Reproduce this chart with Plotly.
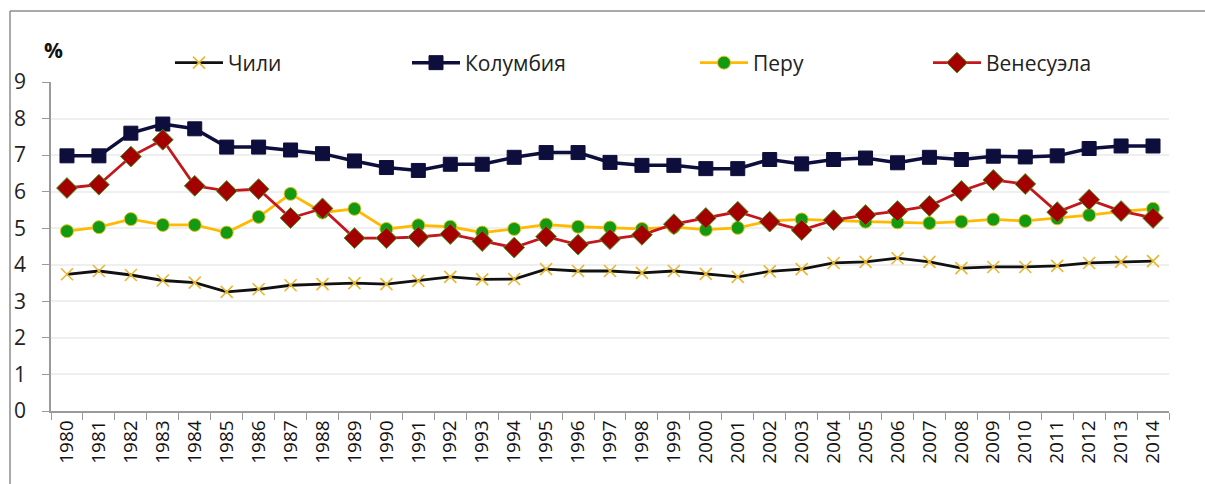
import plotly.graph_objects as go

years = [str(y) for y in range(1980, 2015)]

chile = [3.74, 3.83, 3.72, 3.57, 3.51, 3.26, 3.33, 3.44, 3.47, 3.50, 3.47, 3.56, 3.67, 3.60, 3.61,
         3.88, 3.83, 3.83, 3.78, 3.83, 3.75, 3.67, 3.82, 3.88, 4.05, 4.08, 4.18, 4.08, 3.91, 3.94,
         3.94, 3.97, 4.05, 4.08, 4.10]
colombia = [6.98, 6.98, 7.60, 7.85, 7.72, 7.22, 7.22, 7.14, 7.04, 6.84, 6.66, 6.58, 6.75, 6.75, 6.94,
            7.07, 7.07, 6.80, 6.72, 6.72, 6.63, 6.63, 6.88, 6.76, 6.88, 6.92, 6.79, 6.94, 6.88, 6.97,
            6.95, 6.98, 7.18, 7.25, 7.25]
peru = [4.92, 5.03, 5.25, 5.09, 5.09, 4.88, 5.31, 5.94, 5.43, 5.53, 4.98, 5.08, 5.04, 4.88, 4.98,
        5.10, 5.04, 5.02, 4.98, 5.03, 4.96, 5.01, 5.20, 5.24, 5.20, 5.18, 5.16, 5.14, 5.18, 5.24,
        5.20, 5.27, 5.36, 5.46, 5.53]
venezuela = [6.10, 6.19, 6.96, 7.42, 6.16, 6.02, 6.07, 5.28, 5.54, 4.73, 4.73, 4.76, 4.84, 4.65, 4.47,
             4.77, 4.55, 4.70, 4.82, 5.11, 5.28, 5.45, 5.18, 4.95, 5.22, 5.36, 5.47, 5.61, 6.02, 6.32,
             6.21, 5.44, 5.78, 5.47, 5.28]

W, H = 1205, 484
ML, MR, MT, MB = 51, 36, 82, 73
PW, PH = W - ML - MR, H - MT - MB


def px_x(x):
    return (x - ML) / PW


def px_y(y):
    return (H - MB - y) / PH


FONT = "Open Sans"

fig = go.Figure()

fig.add_trace(go.Scatter(
    x=years, y=chile, name="Чили", mode="lines+markers", legend="legend",
    line=dict(color="#111111", width=2.8),
    marker=dict(symbol="x-thin", size=12, line=dict(color="#E9B72F", width=1.6)),
))
fig.add_trace(go.Scatter(
    x=years, y=colombia, name="Колумбия", mode="lines+markers", legend="legend2",
    line=dict(color="#0E0E3C", width=3.5),
    marker=dict(symbol="square", size=14, color="#0E0E3C", line=dict(color="#0E0E3C", width=1)),
))
fig.add_trace(go.Scatter(
    x=years, y=peru, name="Перу", mode="lines+markers", legend="legend3",
    line=dict(color="#FFB900", width=2.8),
    marker=dict(symbol="circle", size=13, color="#129A12", line=dict(color="#E8C020", width=1)),
))
fig.add_trace(go.Scatter(
    x=years, y=venezuela, name="Венесуэла", mode="lines+markers", legend="legend4",
    line=dict(color="#C4161C", width=2.8),
    marker=dict(symbol="diamond", size=16, color="#A50000", line=dict(color="#3E9A1E", width=1)),
))

legend_font = dict(family=FONT, size=21, color="#222222")
legend_base = dict(orientation="h", xanchor="left", yanchor="middle", font=legend_font,
                   bgcolor="rgba(0,0,0,0)", itemwidth=48, tracegroupgap=0)
legend_x = [170, 407, 695, 928]
legend_y = px_y(63)

# Outer frame: top and left edges
shapes = [
    dict(type="line", xref="paper", yref="paper", x0=px_x(10), x1=px_x(W), y0=px_y(11), y1=px_y(11),
         line=dict(color="#8C8C8C", width=1.5)),
    dict(type="line", xref="paper", yref="paper", x0=px_x(10), x1=px_x(10), y0=px_y(11), y1=px_y(H),
         line=dict(color="#8C8C8C", width=1.5)),
]

fig.update_layout(
    width=W, height=H,
    margin=dict(l=ML, r=MR, t=MT, b=MB),
    paper_bgcolor="white", plot_bgcolor="white",
    font=dict(family=FONT, color="#222222"),
    showlegend=True,
    legend=dict(legend_base, x=px_x(legend_x[0]), y=legend_y),
    legend2=dict(legend_base, x=px_x(legend_x[1]), y=legend_y),
    legend3=dict(legend_base, x=px_x(legend_x[2]), y=legend_y),
    legend4=dict(legend_base, x=px_x(legend_x[3]), y=legend_y),
    shapes=shapes,
    annotations=[dict(text="<b>%</b>", xref="paper", yref="paper", x=px_x(53), y=px_y(50),
                      xanchor="center", yanchor="middle", showarrow=False,
                      font=dict(family=FONT, size=21, color="#111111"))],
    xaxis=dict(
        type="category", range=[-0.5, len(years) - 0.5], tickson="boundaries",
        ticks="outside", ticklen=7, tickcolor="#9A9A9A",
        showline=True, linecolor="#9A9A9A", linewidth=1.5, showgrid=False,
        tickangle=-90, tickfont=dict(family=FONT, size=19, color="#111111"),
    ),
    yaxis=dict(
        range=[0, 9], dtick=1, ticks="outside", ticklen=7, tickcolor="#9A9A9A",
        showline=True, linecolor="#9A9A9A", linewidth=1.5,
        showgrid=True, gridcolor="#EFEFEF", gridwidth=1.5, zeroline=False,
        tickfont=dict(family=FONT, size=21, color="#222222"), ticklabelstandoff=12,
    ),
)

fig.write_html("out.html")
